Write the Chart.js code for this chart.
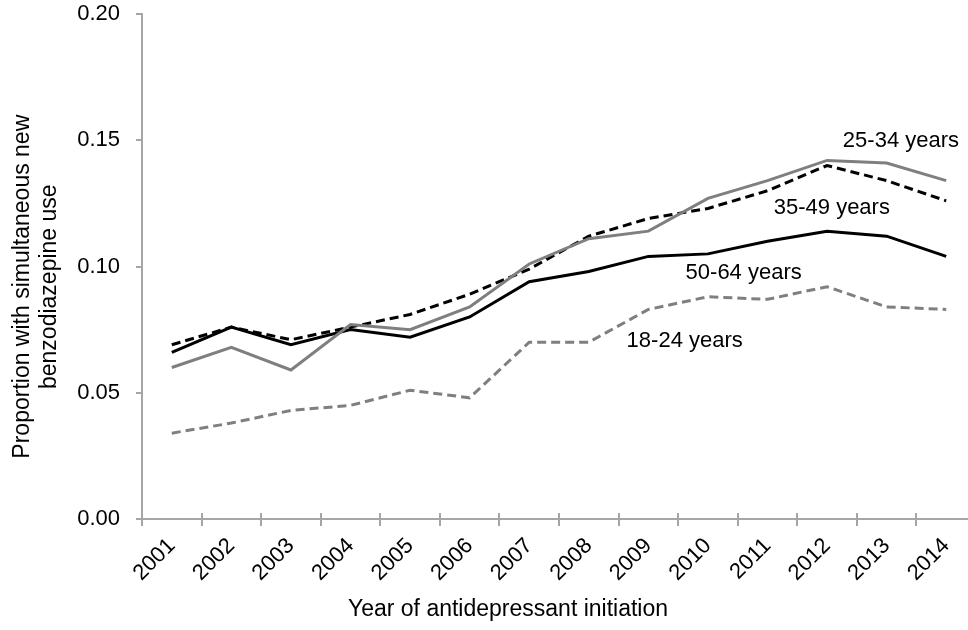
<!DOCTYPE html>
<html>
<head>
<title>Benzodiazepine use by age group</title>
<script src="https://cdn.jsdelivr.net/npm/chart.js@4"></script>
<style>
  html, body { margin: 0; padding: 0; background: #fff; overflow: hidden; }
  #container { width: 976px; height: 630px; }
</style>
</head>
<body>
<div id="container">
  <canvas id="canvas" width="976" height="630"></canvas>
</div>
<script>

// values
var years = ['2001', '2002', '2003', '2004', '2005', '2006', '2007',
             '2008', '2009', '2010', '2011', '2012', '2013', '2014'];
var age1824 = [0.034, 0.038, 0.043, 0.045, 0.051, 0.048, 0.070, 0.070, 0.083, 0.088, 0.087, 0.092, 0.084, 0.083];
var age2534 = [0.060, 0.068, 0.059, 0.077, 0.075, 0.084, 0.101, 0.111, 0.114, 0.127, 0.134, 0.142, 0.141, 0.134];
var age3549 = [0.069, 0.076, 0.071, 0.076, 0.081, 0.089, 0.099, 0.112, 0.119, 0.123, 0.130, 0.140, 0.134, 0.126];
var age5064 = [0.066, 0.076, 0.069, 0.075, 0.072, 0.080, 0.094, 0.098, 0.104, 0.105, 0.110, 0.114, 0.112, 0.104];
var yTicks = [0, 0.05, 0.10, 0.15, 0.20];

// series labels placed in data coordinates (category index, value)
var seriesLabels = [
  { text: '25-34 years', x: 12.24, y: 0.1497 },
  { text: '35-49 years', x: 11.08, y: 0.1232 },
  { text: '50-64 years', x: 9.60,  y: 0.0974 },
  { text: '18-24 years', x: 8.61,  y: 0.0705 }
];

var yTitle = ['Proportion with simultaneous new', 'benzodiazepine use'];
var xTitle = 'Year of antidepressant initiation';

var GRAY = '#7f7f7f';
var AXIS = '#a6a6a6';
var FONT = "'Liberation Sans', Arial, Helvetica, sans-serif";

Chart.defaults.font.family = FONT;
Chart.defaults.font.size = 22;
Chart.defaults.color = '#000';

function lineSet(label, data, color, dashed) {
  return {
    label: label,
    data: data,
    borderColor: color,
    borderWidth: 3,
    borderDash: dashed ? [9, 5] : [],
    pointRadius: 0,
    fill: false,
    tension: 0
  };
}

// labels, axis titles and the inner half of the x tick marks
var decorations = {
  id: 'decorations',
  afterDraw: function(chart) {
    var ctx = chart.ctx;
    var xs = chart.scales.x, ys = chart.scales.y;
    ctx.save();

    // x tick marks cross the axis line
    ctx.strokeStyle = AXIS;
    ctx.lineWidth = 2;
    for (var i = 0; i <= years.length; i++) {
      var px = Math.round(xs.getPixelForValue(i - 0.5));
      ctx.beginPath();
      ctx.moveTo(px, ys.bottom);
      ctx.lineTo(px, ys.bottom - 6);
      ctx.stroke();
    }

    ctx.fillStyle = '#000';
    ctx.font = '22px ' + FONT;
    ctx.textAlign = 'center';
    ctx.textBaseline = 'middle';
    seriesLabels.forEach(function(l) {
      ctx.fillText(l.text, xs.getPixelForValue(l.x), ys.getPixelForValue(l.y));
    });

    // axis titles
    ctx.font = '23px ' + FONT;
    ctx.fillText(xTitle, 508, 610);

    var cy = ys.top + ys.height * 0.54;
    ctx.translate(0, cy);
    ctx.rotate(-Math.PI / 2);
    ctx.fillText(yTitle[0], 0, 23);
    ctx.fillText(yTitle[1], 0, 50);
    ctx.restore();
  }
};

var ctx = document.getElementById('canvas').getContext('2d');
window.myChart = new Chart(ctx, {
  type: 'line',
  data: {
    labels: years,
    datasets: [
      lineSet('25-34 years', age2534, GRAY, false),
      lineSet('35-49 years', age3549, '#000', true),
      lineSet('50-64 years', age5064, '#000', false),
      lineSet('18-24 years', age1824, GRAY, true)
    ]
  },
  options: {
    responsive: false,
    devicePixelRatio: 1,
    animation: false,
    layout: { padding: { top: 0, left: 0, right: 0, bottom: 0 } },
    plugins: {
      legend: { display: false },
      tooltip: { enabled: false }
    },
    scales: {
      x: {
        type: 'category',
        offset: true,
        grid: {
          offset: true,
          drawOnChartArea: false,
          tickLength: 7,
          color: AXIS,
          lineWidth: 2
        },
        border: { color: AXIS, width: 2 },
        ticks: {
          minRotation: 45,
          maxRotation: 45,
          padding: 7,
          font: { size: 22 }
        },
        afterFit: function(scale) { scale.height = 111; }
      },
      y: {
        min: 0,
        max: 0.2,
        afterBuildTicks: function(scale) {
          scale.ticks = yTicks.map(function(v) { return { value: v }; });
        },
        grid: {
          drawOnChartArea: false,
          tickLength: 6,
          color: AXIS,
          lineWidth: 2
        },
        border: { color: AXIS, width: 2 },
        ticks: {
          padding: 16,
          font: { size: 22 },
          callback: function(v) { return Number(v).toFixed(2); }
        },
        afterFit: function(scale) {
          scale.width = 142;
          scale.paddingTop = 14;
          scale.paddingBottom = 0;
        }
      }
    }
  },
  plugins: [decorations]
});

</script>
</body>
</html>
